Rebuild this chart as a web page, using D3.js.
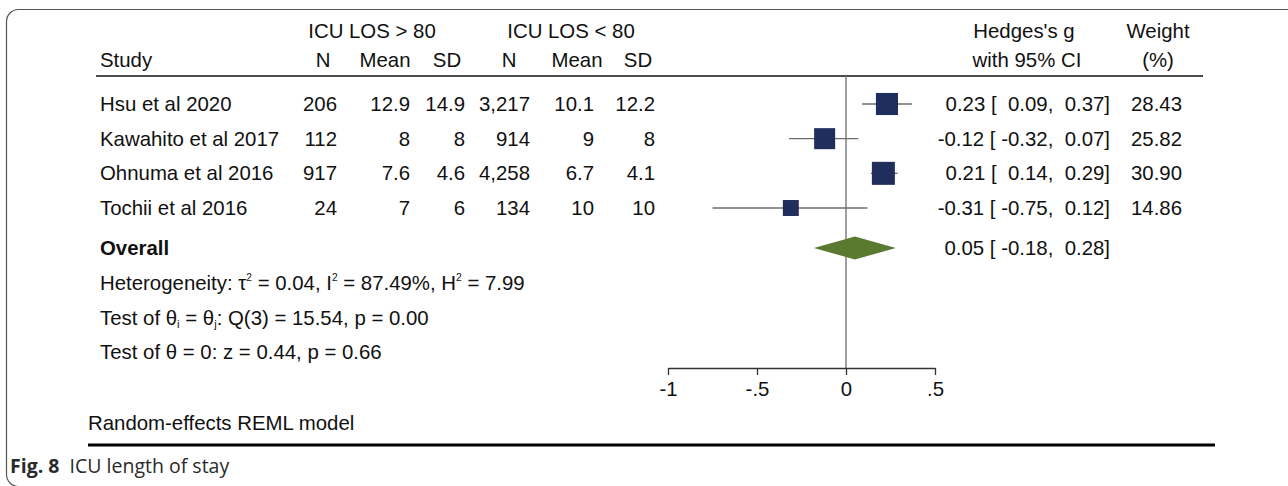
<!DOCTYPE html>
<html>
<head>
<meta charset="utf-8">
<script src="https://cdn.jsdelivr.net/npm/d3@7"></script>
<style>
  html, body { margin: 0; padding: 0; background: #fff; }
  svg { display: block; }
  text { font-family: "Liberation Sans", Arial, Helvetica, sans-serif; fill: #111; }
</style>
</head>
<body>
<svg id="chart" width="1288" height="486"></svg>
<script>
// ---- Study data: ICU length of stay, age > 80 vs < 80 ----
const studies   = ["Hsu et al 2020", "Kawahito et al 2017", "Ohnuma et al 2016", "Tochii et al 2016"];
const nOld      = ["206", "112", "917", "24"];
const meanOld   = ["12.9", "8", "7.6", "7"];
const sdOld     = ["14.9", "8", "4.6", "6"];
const nYoung    = ["3,217", "914", "4,258", "134"];
const meanYoung = ["10.1", "9", "6.7", "10"];
const sdYoung   = ["12.2", "8", "4.1", "10"];
const hedgesG   = [0.23, -0.12, 0.21, -0.31];
const ciLow     = [0.09, -0.32, 0.14, -0.75];
const ciHigh    = [0.37, 0.07, 0.29, 0.12];
const weights   = [28.43, 25.82, 30.90, 14.86];
const overall   = { g: 0.05, lo: -0.18, hi: 0.28 };
const axisTicks = [-1, -0.5, 0, 0.5];
const axisTickLabels = ["-1", "-.5", "0", ".5"];

const svg = d3.select("#chart");
const FS = 20.4;

// Figure frame with rounded corners
svg.append("rect")
  .attr("x", 6.5).attr("y", 9.5)
  .attr("width", 1400).attr("height", 477)
  .attr("rx", 12).attr("ry", 12)
  .attr("fill", "none").attr("stroke", "#555").attr("stroke-width", 1.2);

// Scales
const x = d3.scaleLinear().domain([-1, 0.5]).range([668, 935]);
const rowY = d3.scalePoint().domain(d3.range(studies.length)).range([104, 208]);
const side = d3.scaleSqrt().domain([0, d3.max(weights)]).range([0, 23]);

// Column layout (right edges for values, centres for headers)
const cols = [
  { vals: nOld,      right: 337, head: "N",    hc: 323 },
  { vals: meanOld,   right: 410, head: "Mean", hc: 385 },
  { vals: sdOld,     right: 465, head: "SD",   hc: 447 },
  { vals: nYoung,    right: 530, head: "N",    hc: 509 },
  { vals: meanYoung, right: 594, head: "Mean", hc: 577 },
  { vals: sdYoung,   right: 655, head: "SD",   hc: 638 }
];

const hdrTop = 38, hdrBot = 67;
const txt = (xp, yp, s, anchor) => svg.append("text")
  .attr("x", xp).attr("y", yp).attr("font-size", FS)
  .attr("text-anchor", anchor || "start")
  .attr("xml:space", "preserve").style("white-space", "pre")
  .text(s);

// Headers
txt(372, hdrTop, "ICU LOS > 80", "middle");
txt(571, hdrTop, "ICU LOS < 80", "middle");
txt(100, hdrBot, "Study");
cols.forEach(c => txt(c.hc, hdrBot, c.head, "middle"));
txt(1024, hdrTop, "Hedges's g", "middle");
txt(1027, hdrBot, "with 95% CI", "middle");
txt(1158, hdrTop, "Weight", "middle");
txt(1158, hdrBot, "(%)", "middle");

// Header rule
svg.append("line").attr("x1", 96).attr("x2", 1203).attr("y1", 76).attr("y2", 76)
  .attr("stroke", "#111").attr("stroke-width", 1.6);

// Null-effect reference line
svg.append("line").attr("x1", x(0)).attr("x2", x(0)).attr("y1", 76).attr("y2", 368)
  .attr("stroke", "#777").attr("stroke-width", 1.4);

// Study rows
const fmt = v => (v < 0 ? "" : " ") + v.toFixed(2);
const ciText = (g, lo, hi) => `${g.toFixed(2)} [ ${fmt(lo)},  ${hi.toFixed(2)}]`;
studies.forEach((s, i) => {
  const cy = rowY(i);
  const by = cy + 7;
  txt(100, by, s);
  cols.forEach(c => txt(c.right, by, c.vals[i], "end"));
  txt(1110, by, ciText(hedgesG[i], ciLow[i], ciHigh[i]), "end");
  txt(1182, by, weights[i].toFixed(2), "end");
});

// Confidence intervals
svg.append("g").selectAll("line").data(studies).join("line")
  .attr("x1", (d, i) => x(ciLow[i])).attr("x2", (d, i) => x(ciHigh[i]))
  .attr("y1", (d, i) => rowY(i)).attr("y2", (d, i) => rowY(i))
  .attr("stroke", "#6e6e6e").attr("stroke-width", 1.4);

// Weighted effect-size squares
svg.append("g").selectAll("rect").data(studies).join("rect")
  .attr("x", (d, i) => x(hedgesG[i]) - side(weights[i]) / 2)
  .attr("y", (d, i) => rowY(i) - side(weights[i]) / 2)
  .attr("width", (d, i) => side(weights[i]))
  .attr("height", (d, i) => side(weights[i]))
  .attr("fill", "#1f2e5c");

// Overall pooled estimate
const oy = 248;
svg.append("path")
  .attr("d", `M${x(overall.lo)},${oy} L${x(overall.g)},${oy - 11.5} L${x(overall.hi)},${oy} L${x(overall.g)},${oy + 11.5} Z`)
  .attr("fill", "#5a7a2f");
txt(100, oy + 7, "Overall").attr("font-weight", "bold");
txt(1110, oy + 7, ciText(overall.g, overall.lo, overall.hi), "end");

// Heterogeneity statistics
const sup = (t, s) => { t.append("tspan").text(s).attr("font-size", FS * 0.5).attr("dy", -9); };
const back = (t, s, dy) => { t.append("tspan").text(s).attr("dy", dy); };
let t1 = txt(100, 290, "");
back(t1, "Heterogeneity: τ", 0); sup(t1, "2"); back(t1, " = 0.04, I", 9); sup(t1, "2");
back(t1, " = 87.49%, H", 9); sup(t1, "2"); back(t1, " = 7.99", 9);

let t2 = txt(100, 325, "");
const sub = (t, s) => { t.append("tspan").text(s).attr("font-size", FS * 0.55).attr("dy", 3); };
back(t2, "Test of θ", 0); sub(t2, "i"); back(t2, " = θ", -3); sub(t2, "j"); back(t2, ": Q(3) = 15.54, p = 0.00", -3);

txt(100, 359, "Test of θ = 0: z = 0.44, p = 0.66");

// Effect-size axis
const axis = d3.axisBottom(x).tickValues(axisTicks)
  .tickFormat((d, i) => axisTickLabels[i]).tickSize(7).tickSizeOuter(0);
const ag = svg.append("g").attr("transform", "translate(0,368)").call(axis);
ag.select(".domain").attr("stroke", "#333").attr("stroke-width", 1.3);
ag.selectAll(".tick line").attr("stroke", "#333").attr("stroke-width", 1.3);
ag.selectAll(".tick text").attr("font-size", FS).attr("font-family", "Liberation Sans, Arial, sans-serif")
  .attr("fill", "#111").attr("dy", "0.9em");

// Model note and bottom rule
txt(88, 430, "Random-effects REML model");
svg.append("line").attr("x1", 88).attr("x2", 1215).attr("y1", 445).attr("y2", 445)
  .attr("stroke", "#000").attr("stroke-width", 3.2);

// Figure caption
const cap = svg.append("text").attr("x", 10).attr("y", 473)
  .attr("font-size", 19.5)
  .style("font-family", "'Open Sans', sans-serif").style("fill", "#2a2a2a");
cap.append("tspan").text("Fig. 8").attr("font-weight", "bold");
cap.append("tspan").text("  ICU length of stay").style("white-space", "pre").attr("xml:space", "preserve");
</script>
</body>
</html>
